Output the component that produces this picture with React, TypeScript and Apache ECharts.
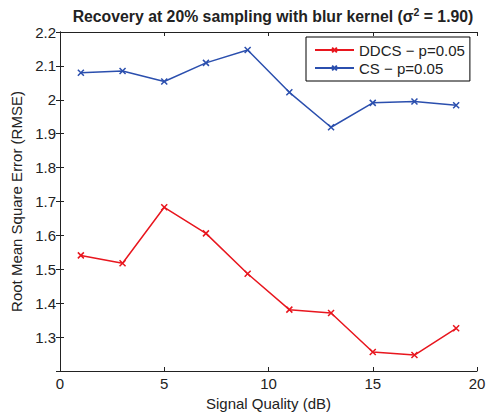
import React, { useEffect, useRef } from "react";
import * as echarts from "echarts";

const xValues = [1, 3, 5, 7, 9, 11, 13, 15, 17, 19];
const ddcs = [1.541, 1.518, 1.683, 1.606, 1.487, 1.381, 1.371, 1.256, 1.247, 1.326];
const cs = [2.080, 2.085, 2.054, 2.109, 2.147, 2.022, 1.919, 1.991, 1.995, 1.984];
const seriesNames = ["DDCS \u2212 p=0.05", "CS \u2212 p=0.05"];
const colors = ["#e8161e", "#2b4fae"];

const FONT = "'Liberation Sans', Arial, Helvetica, sans-serif";
const CROSS = "path://M0,0L10,10M10,0L0,10";

export default function App() {
  const ref = useRef<HTMLDivElement>(null);
  useEffect(() => {
    if (!ref.current) return;
    const chart = echarts.init(ref.current, null, { renderer: "svg" });
    const mk = (name: string, vals: number[], color: string) => ({
      name,
      type: "line",
      data: xValues.map((x, i) => [x, vals[i]]),
      symbol: CROSS,
      symbolSize: 6,
      lineStyle: { color, width: 1.5 },
      itemStyle: { color: "none", borderColor: color, borderWidth: 1.5 },
    });
    chart.setOption({
      animation: false,
      backgroundColor: "#ffffff",
      textStyle: { fontFamily: FONT },
      title: {
        text: "Recovery at 20% sampling with blur kernel (\u03c3{sup|2} = 1.90)",
        left: 268,
        top: 1,
        textAlign: "center",
        textStyle: {
          fontFamily: FONT,
          fontSize: 15.8,
          fontWeight: "bold",
          color: "#222",
          rich: {
            sup: { fontSize: 10.5, fontWeight: "bold", verticalAlign: "top", padding: [0, 0, 9, 0], color: "#222", fontFamily: FONT },
          },
        },
      },
      legend: {
        orient: "vertical",
        left: 306,
        top: 37,
        itemWidth: 39,
        itemHeight: 6,
        itemGap: 2,
        padding: [5, 5, 5, 8],
        borderColor: "#000",
        borderWidth: 1,
        backgroundColor: "#fff",
        textStyle: { fontFamily: FONT, fontSize: 15, color: "#222", lineHeight: 16 },
        data: seriesNames,
      },
      grid: { left: 60, right: 15, top: 32, bottom: 45 },
      xAxis: [
        {
          type: "value",
          min: 0,
          max: 20,
          interval: 5,
          name: "Signal Quality (dB)",
          nameLocation: "middle",
          nameGap: 23,
          nameTextStyle: { fontFamily: FONT, fontSize: 15, color: "#222" },
          axisLine: { lineStyle: { color: "#222", width: 1 } },
          axisTick: { inside: true, length: 4, lineStyle: { color: "#222" } },
          axisLabel: { fontFamily: FONT, fontSize: 15, color: "#222", margin: 5 },
          splitLine: { show: false },
        },
        {
          type: "value",
          position: "top",
          min: 0,
          max: 20,
          interval: 5,
          axisLine: { show: true, lineStyle: { color: "#222", width: 1 } },
          axisTick: { inside: true, length: 4, lineStyle: { color: "#222" } },
          axisLabel: { show: false },
          splitLine: { show: false },
        },
      ],
      yAxis: [
        {
          type: "value",
          min: 1.2,
          max: 2.2,
          interval: 0.1,
          name: "Root Mean Square Error (RMSE)",
          nameLocation: "middle",
          nameGap: 32,
          nameTextStyle: { fontFamily: FONT, fontSize: 15, color: "#222" },
          axisLine: { show: true, lineStyle: { color: "#222", width: 1 } },
          axisTick: { inside: true, length: 4, lineStyle: { color: "#222" } },
          axisLabel: {
            fontFamily: FONT,
            fontSize: 15,
            color: "#222",
            margin: 4,
            formatter: (v: number) => (Math.abs(v - 1.2) < 1e-6 ? "" : String(Math.round(v * 10) / 10)),
          },
          splitLine: { show: false },
        },
        {
          type: "value",
          position: "right",
          min: 1.2,
          max: 2.2,
          interval: 0.1,
          axisLine: { show: true, lineStyle: { color: "#222", width: 1 } },
          axisTick: { inside: true, length: 4, lineStyle: { color: "#222" } },
          axisLabel: { show: false },
          splitLine: { show: false },
        },
      ],
      series: [mk(seriesNames[0], ddcs, colors[0]), mk(seriesNames[1], cs, colors[1])],
    });
    return () => chart.dispose();
  }, []);
  return <div ref={ref} style={{ position: "fixed", left: 0, top: 0, width: 492, height: 416 }} />;
}
